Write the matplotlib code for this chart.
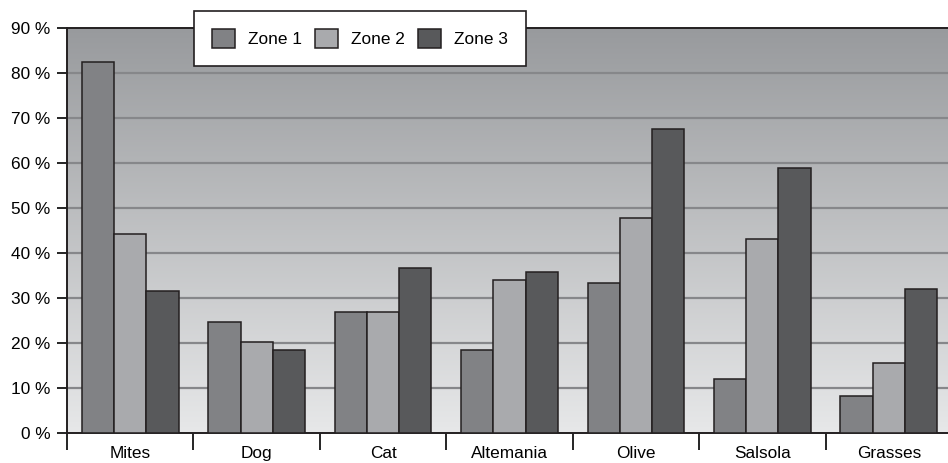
import numpy as np
import matplotlib
matplotlib.use("Agg")
import matplotlib.pyplot as plt
from matplotlib.colors import LinearSegmentedColormap

plt.rcParams['font.family'] = ['Liberation Sans', 'DejaVu Sans']

categories = ["Mites", "Dog", "Cat", "Altemania", "Olive", "Salsola", "Grasses"]
zone1 = [82.5, 24.7, 27.0, 18.4, 33.4, 11.9, 8.3]
zone2 = [44.2, 20.2, 27.0, 33.9, 47.8, 43.0, 15.5]
zone3 = [31.6, 18.5, 36.6, 35.7, 67.5, 58.8, 31.9]
series_names = ["Zone 1", "Zone 2", "Zone 3"]
y_ticks = [0, 10, 20, 30, 40, 50, 60, 70, 80, 90]

colors = ["#818285", "#a9aaad", "#58595b"]
edge = "#231f20"
fs = 12.4

W, H = 948, 463
fig = plt.figure(figsize=(W / 100, H / 100), dpi=100)
ax = fig.add_axes([67 / W, (H - 433) / H, 885 / W, (433 - 28) / H])

n = len(categories)
ax.set_xlim(0, n)
ax.set_ylim(0, 90)

# vertical gradient backdrop
grad = np.linspace(0, 1, 256).reshape(-1, 1)
cmap = LinearSegmentedColormap.from_list("bg", ["#e7e8e9", "#989a9d"])
ax.imshow(grad, aspect="auto", cmap=cmap, extent=[0, n, 0, 90],
          origin="lower", zorder=0, interpolation="bicubic")

for t in y_ticks[1:-1]:
    ax.axhline(t, color="#86878a", lw=1.6, zorder=1)

w = 0.255
x = np.arange(n) + 0.5
for k, (vals, name) in enumerate(zip([zone1, zone2, zone3], series_names)):
    ax.bar(x + (k - 1) * w, vals, width=w, color=colors[k], edgecolor=edge,
           linewidth=1.1, label=name, zorder=3)

ax.set_yticks(y_ticks)
ax.set_yticklabels([f"{t} %" for t in y_ticks])
ax.tick_params(axis="y", direction="out", length=7, width=1.2, pad=5,
               labelsize=fs, colors="black")

# boundary ticks between categories, labels at category centres
ax.set_xticks(np.arange(n + 1))
ax.set_xticklabels([])
ax.tick_params(axis="x", which="major", direction="out", length=12, width=1.2)
ax.set_xticks(x, minor=True)
ax.set_xticklabels(categories, minor=True)
ax.tick_params(axis="x", which="minor", length=0, pad=9.5, labelsize=fs)

for side in ["left", "bottom", "top"]:
    ax.spines[side].set_linewidth(1.4)
    ax.spines[side].set_color("#231f20")
ax.spines["right"].set_visible(False)
ax.spines["top"].set_zorder(4)

leg = fig.legend(loc="upper left", bbox_to_anchor=(194 / W, 1 - 11 / H),
                 ncol=3, frameon=True, fancybox=False, fontsize=fs,
                 handlelength=1.35, handleheight=1.35, handletextpad=0.75,
                 columnspacing=0.75, borderpad=1.05, borderaxespad=0)
leg.get_frame().set_edgecolor("#231f20")
leg.get_frame().set_linewidth(1.2)
leg.get_frame().set_facecolor("white")
leg.get_frame().set_alpha(1)

fig.savefig("out.png", dpi=100)
